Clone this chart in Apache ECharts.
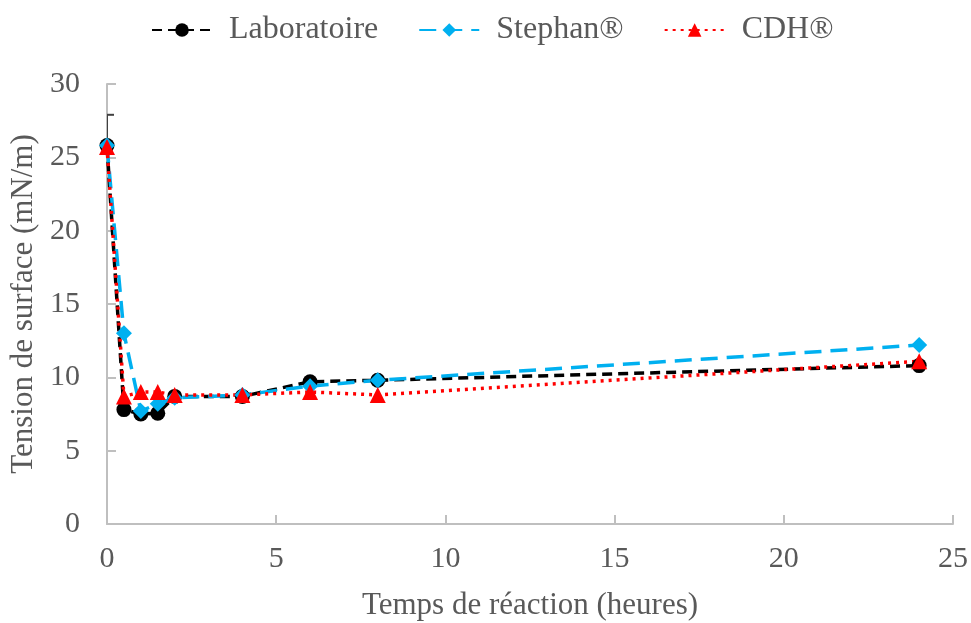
<!DOCTYPE html>
<html>
<head>
<meta charset="utf-8">
<script src="https://cdn.jsdelivr.net/npm/echarts@6/dist/echarts.min.js"></script>
<style>
html,body{margin:0;padding:0;background:#fff;}
#chart{width:971px;height:623px;}
</style>
</head>
<body>
<div id="chart"></div>
<script>
// Reaction times (hours)
const hours = [0, 0.5, 1, 1.5, 2, 4, 6, 8, 24];
// Surface tension (mN/m) for each surfactant source
const laboratoire = [25.8, 7.8, 7.5, 7.55, 8.7, 8.7, 9.7, 9.8, 10.8];
const stephan = [25.8, 13.0, 7.7, 8.2, 8.6, 8.8, 9.4, 9.8, 12.2];
const cdh = [25.7, 8.7, 9.0, 9.0, 8.8, 8.8, 9.0, 8.8, 11.1];
// Upper error bar on the first laboratory measurement: [x, low, high]
const errorBars = [[0, 25.8, 27.9]];

const FONT = '"Liberation Serif", "Times New Roman", serif';
const GREY = '#595959';

const pairs = arr => hours.map((h, i) => [h, arr[i]]);

const chart = echarts.init(document.getElementById('chart'));
chart.setOption({
  animation: false,
  textStyle: { fontFamily: FONT },
  grid: { left: 107, right: 18, top: 84, bottom: 99, containLabel: false, outerBoundsMode: 'none' },
  legend: {
    top: 9,
    left: 146,
    itemWidth: 60,
    itemHeight: 17,
    itemGap: 40,
    textStyle: { fontFamily: FONT, fontSize: 32, color: GREY, padding: [0, 0, 0, 12] },
    data: ['Laboratoire', 'Stephan®', 'CDH®']
  },
  xAxis: {
    type: 'value',
    min: 0, max: 25, interval: 5,
    name: 'Temps de réaction (heures)',
    nameLocation: 'middle',
    nameGap: 66,
    nameTextStyle: { fontFamily: FONT, fontSize: 31, color: GREY },
    axisLine: { lineStyle: { color: '#bfbfbf', width: 2 } },
    axisTick: { show: true, inside: true, length: 9, lineStyle: { color: '#bfbfbf', width: 2 } },
    axisLabel: { fontFamily: FONT, fontSize: 30, color: GREY, margin: 20 },
    splitLine: { show: false }
  },
  yAxis: {
    type: 'value',
    min: 0, max: 30, interval: 5,
    name: 'Tension de surface (mN/m)',
    nameLocation: 'middle',
    nameGap: 60,
    nameTextStyle: { fontFamily: FONT, fontSize: 31, color: GREY },
    axisLine: { show: true, lineStyle: { color: '#bfbfbf', width: 2 } },
    axisTick: { show: true, inside: true, length: 9, lineStyle: { color: '#bfbfbf', width: 2 } },
    axisLabel: { fontFamily: FONT, fontSize: 30, color: GREY, margin: 27 },
    splitLine: { show: false }
  },
  series: [
    {
      type: 'custom',
      name: 'err',
      z: 1,
      clip: true,
      data: errorBars,
      renderItem: (params, api) => {
        const top = api.coord([api.value(0), api.value(2)]);
        const bot = api.coord([api.value(0), api.value(1)]);
        const style = { stroke: '#404040', lineWidth: 2 };
        return {
          type: 'group',
          children: [
            { type: 'line', shape: { x1: bot[0], y1: bot[1], x2: top[0], y2: top[1] }, style },
            { type: 'line', shape: { x1: top[0] - 7, y1: top[1], x2: top[0] + 7, y2: top[1] }, style }
          ]
        };
      }
    },
    {
      name: 'Laboratoire',
      type: 'line',
      data: pairs(laboratoire),
      symbol: 'circle',
      symbolSize: 15,
      itemStyle: { color: '#000000' },
      lineStyle: { color: '#000000', width: 3.5, type: [10, 6] }
    },
    {
      name: 'Stephan®',
      type: 'line',
      data: pairs(stephan),
      symbol: 'diamond',
      symbolSize: 16,
      itemStyle: { color: '#00b0f0' },
      lineStyle: { color: '#00b0f0', width: 3.5, type: [17, 9] }
    },
    {
      name: 'CDH®',
      type: 'line',
      data: pairs(cdh),
      symbol: 'triangle',
      symbolSize: 16,
      itemStyle: { color: '#ff0000' },
      lineStyle: { color: '#ff0000', width: 3.5, type: [3, 5] }
    }
  ]
});
</script>
</body>
</html>
